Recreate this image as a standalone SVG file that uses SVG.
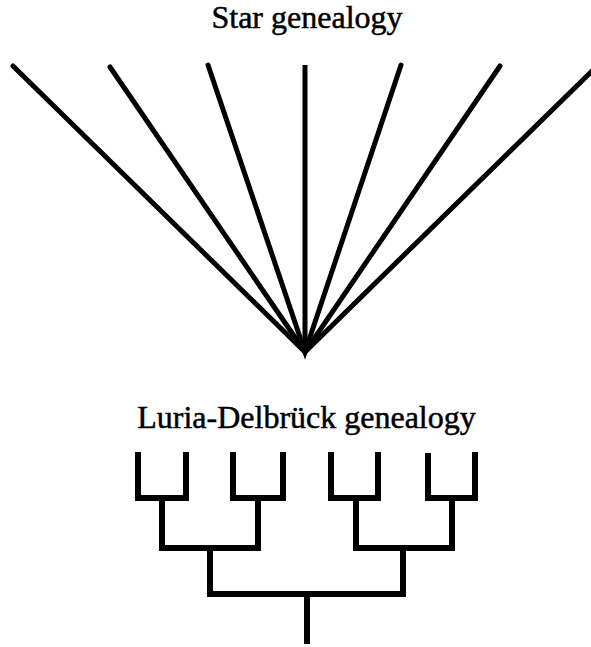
<svg xmlns="http://www.w3.org/2000/svg" width="591" height="647" viewBox="0 0 591 647">
<style>
.t{font-family:"Liberation Serif","Times New Roman",serif;font-size:32px;fill:#000;stroke:#000;stroke-width:0.5;text-anchor:middle}
.s{stroke:#000;stroke-width:5;fill:none;stroke-linecap:round;stroke-linejoin:miter;stroke-miterlimit:10}
.e{stroke:#000;stroke-width:6;fill:none;stroke-linecap:butt;stroke-linejoin:miter}
</style>
<rect width="591" height="647" fill="#fff"/>
<g id="title-star"><text class="t" x="307" y="28">Star genealogy</text></g>
<g id="title-ld"><text class="t" x="306.5" y="428">Luria-Delbrück genealogy</text></g>
<g id="star-connectors">
<path class="s" d="M13,66 L305,352 L597,66"/>
<path class="s" d="M110,67 L305,352 L500,66"/>
<path class="s" d="M208,65 L305,352 L401,65"/>
<path class="s" d="M305,65 L305,352" style="stroke-linecap:butt"/>
</g>
<g id="ld-connectors">
<path class="e" d="M138,452 V498 H186 V452"/>
<path class="e" d="M233,452 V498 H283 V452"/>
<path class="e" d="M331,452 V498 H378 V452"/>
<path class="e" d="M428,453 V498 H475 V452"/>
<path class="e" d="M162,498 V548 H258 V498"/>
<path class="e" d="M356,498 V548 H452 V498"/>
<path class="e" d="M210,548 V594 H403 V548"/>
<path class="e" d="M307,594 V644"/>
</g>
</svg>
